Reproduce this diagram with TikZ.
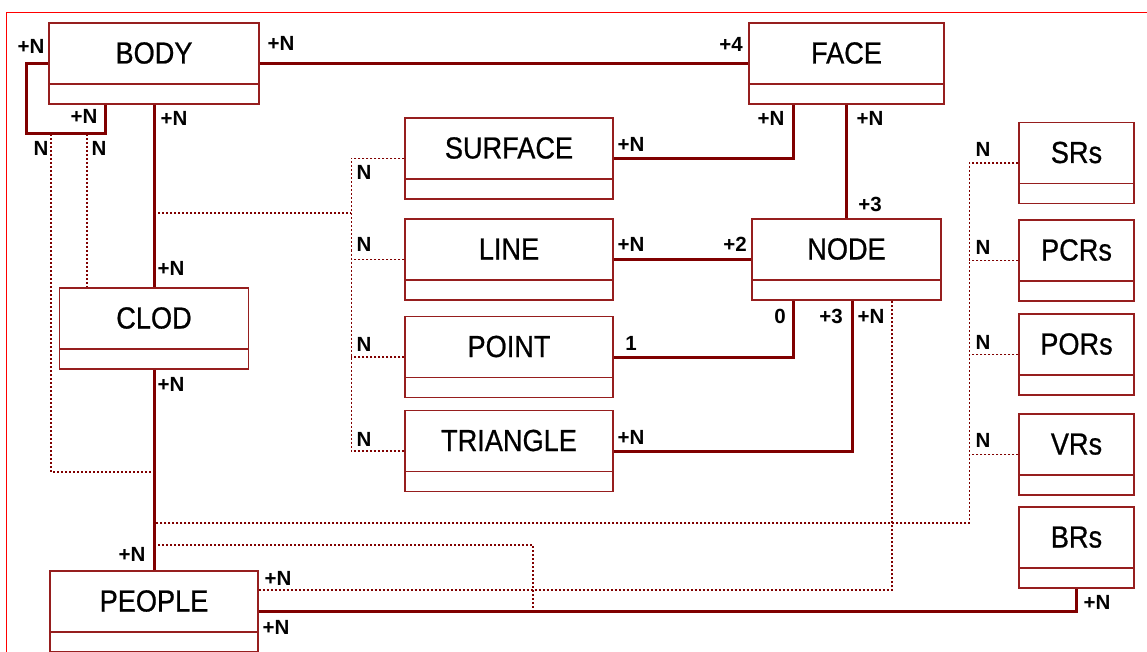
\documentclass[tikz,border=0pt]{standalone}
\usepackage{fontspec}
\setmainfont{Liberation Sans}
\newfontfamily\clsfont[FakeStretch=0.89,FakeBold=0.7]{Liberation Sans}
\definecolor{umlred}{RGB}{128,0,0}
\definecolor{boxred}{RGB}{150,30,30}
\begin{document}
\begin{tikzpicture}[
  x=1pt, y=1pt,
  cls/.style={draw=boxred, line width=1.2pt, fill=white, minimum width=208pt,
    minimum height=81pt, inner sep=0pt, text height=20pt, text depth=20pt,
    font=\clsfont\fontsize{30.5}{32}\selectfont,
    path picture={\draw[boxred, line width=1.2pt]
      ([yshift=20pt]path picture bounding box.south west) --
      ([yshift=20pt]path picture bounding box.south east);}},
  card/.style={font=\bfseries\fontsize{20.5}{22}\selectfont, inner sep=0pt},
  assoc/.style={draw=umlred, line width=3pt},
  dep/.style={draw=umlred, line width=1.6pt, dash pattern=on 2pt off 2pt}]
\useasboundingbox (0,0) rectangle (1147,-652);
\draw[red, line width=1pt] (6.5,-660) -- (6.5,-12.5) -- (1150,-12.5);

\node[cls, minimum width=210pt] (BODY) at (154,-63.5) {BODY};
\node[cls, minimum width=195pt] (FACE) at (846.5,-63.5) {FACE};
\node[cls] (SURFACE) at (509,-158.5) {SURFACE};
\node[cls] (LINE) at (509,-259.5) {LINE};
\node[cls] (POINT) at (509,-357) {POINT};
\node[cls] (TRIANGLE) at (509,-451) {TRIANGLE};
\node[cls, minimum width=189pt] (NODE) at (846.5,-259.5) {NODE};
\node[cls, minimum width=189pt] (CLOD) at (154,-328.5) {CLOD};
\node[cls] (PEOPLE) at (154,-611.5) {PEOPLE};
\node[cls, minimum width=115pt] (SRs) at (1076.5,-163) {SRs};
\node[cls, minimum width=115pt] (PCRs) at (1076.5,-260.5) {PCRs};
\node[cls, minimum width=115pt] (PORs) at (1076.5,-354.5) {PORs};
\node[cls, minimum width=115pt] (VRs) at (1076.5,-454.5) {VRs};
\node[cls, minimum width=115pt] (BRs) at (1076.5,-547.5) {BRs};

\coordinate (loopA) at (51,-134);
\coordinate (loopB) at (87,-134);
\coordinate (loopC) at (105,-134);
\coordinate (tapS) at (154,-213);
\coordinate (tapL) at (154,-472);
\coordinate (tapR) at (154,-523);
\coordinate (tapB) at (154,-545);
\coordinate (tapP) at (533,-611.5);

\draw[dep] (loopA) |- (tapL);
\draw[dep] (loopB) -- (loopB |- CLOD.north);
\draw[dep] (SURFACE.west) -- ++(-53,0) coordinate (busS) |- (TRIANGLE.west);
\draw[dep] (tapS) -- (tapS -| busS);
\draw[dep] (LINE.west) -- (LINE.west -| busS);
\draw[dep] (POINT.west) -- (POINT.west -| busS);
\draw[dep] (SRs.west) -- ++(-49,0) coordinate (busR) |- (tapR);
\draw[dep] (PCRs.west) -- (PCRs.west -| busR);
\draw[dep] (PORs.west) -- (PORs.west -| busR);
\draw[dep] (VRs.west) -- (VRs.west -| busR);
\draw[dep] (tapB) -| (tapP);
\draw[dep] ([yshift=21.5pt]PEOPLE.east) -| ([xshift=45.5pt]NODE.south);

\draw[assoc] (BODY.east) -- (FACE.west);
\draw[assoc] (BODY.west) -- ++(-22,0) |- (loopC) -- (loopC |- BODY.south);
\draw[assoc] (BODY.south) -- (CLOD.north);
\draw[assoc] (CLOD.south) -- (PEOPLE.north);
\draw[assoc] (SURFACE.east) -| ([xshift=-53.5pt]FACE.south);
\draw[assoc] (FACE.south) -- (NODE.north);
\draw[assoc] (LINE.east) -- (NODE.west);
\draw[assoc] (POINT.east) -| ([xshift=-53.5pt]NODE.south);
\draw[assoc] (TRIANGLE.east) -| ([xshift=5.5pt]NODE.south);
\draw[assoc] (PEOPLE.east) -| (BRs.south);

\foreach \px/\py/\t [count=\i] in {31/46/+N, 281/43/+N, 731/44/+4,
    84/116/+N, 174/118/+N, 771/118/+N, 870/118/+N, 41/148/N, 99/148/N,
    631/144/+N, 364/172/N, 870/204/+3, 171/268/+N, 364/244/N, 631/244/+N,
    735/244/+2, 983/149/N, 983/247/N, 983/342/N, 983/440/N, 780/316/0,
    831/316/+3, 871/316/+N, 631/343/1, 364/344/N, 631/437/+N, 364/439/N,
    171/384/+N, 132/554/+N, 278/578/+N, 276/627/+N, 1097/602/+N}
  \node[card] (card\i) at (\px,-\py) {\t};
\end{tikzpicture}
\end{document}
